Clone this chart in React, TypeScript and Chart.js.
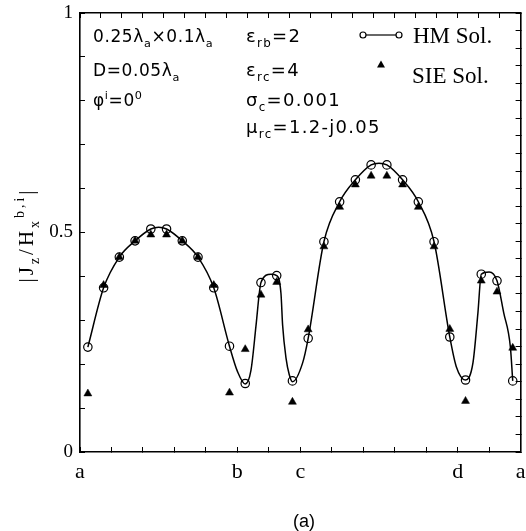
import React, { useEffect, useRef } from 'react';
import { Chart, registerables } from 'chart.js';

Chart.register(...registerables);

// ---- data ----
const xLabelPositions = [0, 0.25, 0.35, 0.6, 0.7];
const xLabels = ['a', 'b', 'c', 'd', 'a'];
const yLabelValues = [0, 0.5, 1];
const yLabels = ['0', '0.5', '1'];

const sampleX = [
  0.0125, 0.0375, 0.0625, 0.0875, 0.1125, 0.1375, 0.1625, 0.1875, 0.2125, 0.2375,
  0.2625, 0.2875, 0.3125, 0.3375,
  0.3625, 0.3875, 0.4125, 0.4375, 0.4625, 0.4875, 0.5125, 0.5375, 0.5625, 0.5875,
  0.6125, 0.6375, 0.6625, 0.6875,
];
const hmValues = [
  0.239, 0.374, 0.444, 0.481, 0.508, 0.508, 0.481, 0.444, 0.374, 0.241,
  0.156, 0.386, 0.402, 0.162,
  0.259, 0.479, 0.570, 0.620, 0.654, 0.654, 0.620, 0.570, 0.479, 0.262,
  0.164, 0.405, 0.390, 0.162,
];
const sieValues = [
  0.133, 0.380, 0.444, 0.481, 0.495, 0.495, 0.481, 0.444, 0.380, 0.135,
  0.234, 0.358, 0.387, 0.114,
  0.279, 0.468, 0.558, 0.609, 0.629, 0.629, 0.609, 0.558, 0.468, 0.280,
  0.116, 0.390, 0.365, 0.237,
];
const curveX = [
  0.0125, 0.0375, 0.0625, 0.0875, 0.1125, 0.125, 0.1375, 0.1625, 0.1875, 0.2125, 0.2375,
  0.2503, 0.2625, 0.2716, 0.2795, 0.2848, 0.2875, 0.3034, 0.3125, 0.3193, 0.3219, 0.3273,
  0.3325, 0.3375, 0.3537, 0.3625, 0.3875, 0.4125, 0.4375, 0.4625, 0.475, 0.4875, 0.5125,
  0.5375, 0.5625, 0.5875, 0.5977, 0.6125, 0.6243, 0.6322, 0.6375, 0.650, 0.6625, 0.6732,
  0.6837, 0.6875,
];
const curveY = [
  0.239, 0.374, 0.444, 0.481, 0.508, 0.512, 0.508, 0.481, 0.444, 0.374, 0.241,
  0.183, 0.155, 0.186, 0.286, 0.361, 0.386, 0.405, 0.402, 0.361, 0.289, 0.214,
  0.176, 0.160, 0.203, 0.259, 0.479, 0.570, 0.620, 0.654, 0.658, 0.654, 0.620,
  0.570, 0.479, 0.262, 0.195, 0.164, 0.203, 0.317, 0.405, 0.410, 0.390, 0.317,
  0.240, 0.162,
];

type Part = { t: string; s?: 'sub' | 'sup' };
const noteCol1: Part[][] = [
  [{ t: '0.25λ' }, { t: 'a', s: 'sub' }, { t: '×0.1λ' }, { t: 'a', s: 'sub' }],
  [{ t: 'D=0.05λ' }, { t: 'a', s: 'sub' }],
  [{ t: 'φ' }, { t: 'i', s: 'sup' }, { t: '=0' }, { t: '0', s: 'sup' }],
];
const noteCol2: Part[][] = [
  [{ t: 'ε' }, { t: 'rb', s: 'sub' }, { t: '=2' }],
  [{ t: 'ε' }, { t: 'rc', s: 'sub' }, { t: '=4' }],
  [{ t: 'σ' }, { t: 'c', s: 'sub' }, { t: '=0.001' }],
  [{ t: 'μ' }, { t: 'rc', s: 'sub' }, { t: '=1.2-j0.05' }],
];
const yTitle: Part[] = [
  { t: '|J' }, { t: 'z', s: 'sub' }, { t: '/H' }, { t: 'x', s: 'sub' }, { t: 'b,i', s: 'sup' }, { t: '|' },
];
const legendLabels = ['HM Sol.', 'SIE Sol.'];
const caption = '(a)';

const W = 526;
const H = 531;

function setFont(ctx: CanvasRenderingContext2D, size: number, family: string, spacing: number) {
  ctx.font = `${size}px "${family}"`;
  (ctx as any).letterSpacing = `${spacing}px`;
}

function richWidth(ctx: CanvasRenderingContext2D, parts: Part[], size: number, family: string, spacing: number) {
  let w = 0;
  for (const p of parts) {
    setFont(ctx, p.s ? size * 0.66 : size, family, spacing);
    w += ctx.measureText(p.t).width;
  }
  return w;
}

function drawRich(ctx: CanvasRenderingContext2D, x: number, y: number, parts: Part[], size: number, family: string, spacing: number) {
  let cx = x;
  for (const p of parts) {
    const fs = p.s ? size * 0.66 : size;
    setFont(ctx, fs, family, spacing);
    const dy = p.s === 'sub' ? size * 0.3 : p.s === 'sup' ? -size * 0.42 : 0;
    ctx.fillText(p.t, cx, y + dy);
    cx += ctx.measureText(p.t).width;
  }
}

function evenTicks(min: number, max: number, n: number) {
  return Array.from({ length: n + 1 }, (_, i) => ({ value: min + ((max - min) * i) / n }));
}

export default function App() {
  const ref = useRef<HTMLCanvasElement>(null);

  useEffect(() => {
    const canvas = ref.current;
    if (!canvas) return;

    const textPlugin = {
      id: 'figureTexts',
      afterDraw(chart: any) {
        const ctx: CanvasRenderingContext2D = chart.ctx;
        ctx.save();
        ctx.fillStyle = '#000';
        ctx.strokeStyle = '#000';
        ctx.textBaseline = 'alphabetic';
        ctx.textAlign = 'left';

        // parameter notes
        const rows = [42, 76, 106, 133];
        noteCol1.forEach((parts, i) => drawRich(ctx, 93, rows[i], parts, 17, 'DejaVu Sans', 0.6));
        noteCol2.forEach((parts, i) => drawRich(ctx, 246, rows[i], parts, 18, 'DejaVu Sans', 1.3));

        // legend
        ctx.lineWidth = 1.2;
        ctx.beginPath();
        ctx.moveTo(366, 35);
        ctx.lineTo(396, 35);
        ctx.stroke();
        [363, 399].forEach((cx) => {
          ctx.beginPath();
          ctx.arc(cx, 35, 3, 0, Math.PI * 2);
          ctx.fillStyle = '#fff';
          ctx.fill();
          ctx.stroke();
        });
        ctx.fillStyle = '#000';
        ctx.beginPath();
        ctx.moveTo(381, 60.5);
        ctx.lineTo(385, 67.5);
        ctx.lineTo(377, 67.5);
        ctx.closePath();
        ctx.fill();
        setFont(ctx, 23, 'Liberation Serif', 0);
        ctx.fillText(legendLabels[0], 413, 43);
        ctx.fillText(legendLabels[1], 412, 83);

        // y axis title (rotated)
        ctx.save();
        ctx.translate(33, 235);
        ctx.rotate(-Math.PI / 2);
        const tw = richWidth(ctx, yTitle, 21, 'Liberation Serif', 3);
        drawRich(ctx, -tw / 2, 0, yTitle, 21, 'Liberation Serif', 3);
        ctx.restore();

        // caption
        setFont(ctx, 18, 'Liberation Sans', 0);
        ctx.textAlign = 'center';
        ctx.fillText(caption, 304, 527);
        ctx.restore();
      },
    };

    const axisGrid = { drawOnChartArea: false, drawTicks: true, tickLength: -5, color: '#000', lineWidth: 1 };
    const axisBorder = { display: true, color: '#000', width: 1.6 };
    const zeroPad = (s: any) => {
      s.paddingLeft = 0;
      s.paddingRight = 0;
      s.paddingTop = 0;
      s.paddingBottom = 0;
    };

    const chart = new Chart(canvas, {
      type: 'line',
      data: {
        datasets: [
          {
            label: 'SIE Sol.',
            data: sampleX.map((x, i) => ({ x, y: sieValues[i] })),
            showLine: false,
            pointStyle: 'triangle',
            pointRadius: 4.6,
            pointBackgroundColor: '#000',
            pointBorderColor: '#000',
            pointBorderWidth: 0.5,
            order: 0,
          },
          {
            label: 'HM Sol. points',
            data: sampleX.map((x, i) => ({ x, y: hmValues[i] })),
            showLine: false,
            pointStyle: 'circle',
            pointRadius: 4.2,
            pointBackgroundColor: 'rgba(0,0,0,0)',
            pointBorderColor: '#000',
            pointBorderWidth: 1.2,
            order: 1,
          },
          {
            label: 'HM Sol.',
            data: curveX.map((x, i) => ({ x, y: curveY[i] })),
            borderColor: '#000',
            borderWidth: 1.5,
            pointRadius: 0,
            fill: false,
            cubicInterpolationMode: 'monotone',
            order: 2,
          },
        ],
      },
      options: {
        animation: false,
        responsive: false,
        devicePixelRatio: 1,
        layout: { padding: 0 },
        plugins: { legend: { display: false }, tooltip: { enabled: false } },
        scales: {
          x: {
            type: 'linear',
            position: 'bottom',
            min: 0,
            max: 0.7,
            afterBuildTicks: (s: any) => {
              s.ticks = evenTicks(0, 0.7, 14);
            },
            ticks: {
              autoSkip: false,
              maxRotation: 0,
              color: '#000',
              padding: 12,
              font: { family: 'Liberation Serif', size: 22 },
              callback: (v: any) => {
                const i = xLabelPositions.findIndex((p) => Math.abs(p - Number(v)) < 1e-6);
                return i >= 0 ? xLabels[i] : '';
              },
            },
            grid: axisGrid,
            border: axisBorder,
            afterFit: (s: any) => {
              s.height = 79;
              zeroPad(s);
            },
          },
          x2: {
            type: 'linear',
            position: 'top',
            min: 0,
            max: 0.7,
            afterBuildTicks: (s: any) => {
              s.ticks = evenTicks(0, 0.7, 21);
            },
            ticks: { display: false, autoSkip: false },
            grid: axisGrid,
            border: axisBorder,
            afterFit: (s: any) => {
              s.height = 13;
              zeroPad(s);
            },
          },
          y: {
            type: 'linear',
            position: 'left',
            min: 0,
            max: 1,
            afterBuildTicks: (s: any) => {
              s.ticks = evenTicks(0, 1, 10);
            },
            ticks: {
              autoSkip: false,
              color: '#000',
              padding: 12,
              font: { family: 'Liberation Serif', size: 19 },
              callback: (v: any) => {
                const i = yLabelValues.findIndex((p) => Math.abs(p - Number(v)) < 1e-6);
                return i >= 0 ? yLabels[i] : '';
              },
            },
            grid: axisGrid,
            border: axisBorder,
            afterFit: (s: any) => {
              s.width = 80;
              zeroPad(s);
            },
          },
          y2: {
            type: 'linear',
            position: 'right',
            min: 0,
            max: 1,
            afterBuildTicks: (s: any) => {
              s.ticks = evenTicks(0, 1, 25);
            },
            ticks: { display: false, autoSkip: false },
            grid: axisGrid,
            border: axisBorder,
            afterFit: (s: any) => {
              s.width = 5;
              zeroPad(s);
            },
          },
        },
      },
      plugins: [textPlugin],
    } as any);

    return () => chart.destroy();
  }, []);

  return (
    <div style={{ position: 'absolute', left: 0, top: 0, width: W, height: H, background: '#fff' }}>
      <canvas ref={ref} width={W} height={H} style={{ display: 'block' }} />
    </div>
  );
}
